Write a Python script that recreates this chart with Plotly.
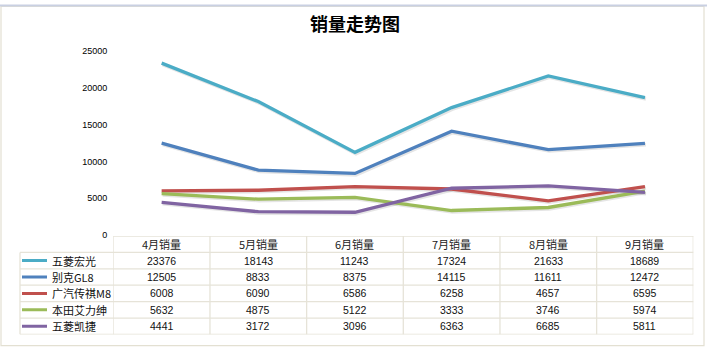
import plotly.graph_objects as go

months = ["4月销量", "5月销量", "6月销量", "7月销量", "8月销量", "9月销量"]
series_names = ["五菱宏光", "别克GL8", "广汽传祺M8", "本田艾力绅", "五菱凯捷"]
wuling_hongguang = [23376, 18143, 11243, 17324, 21633, 18689]
buick_gl8 = [12505, 8833, 8375, 14115, 11611, 12472]
gac_m8 = [6008, 6090, 6586, 6258, 4657, 6595]
honda_elysion = [5632, 4875, 5122, 3333, 3746, 5974]
wuling_kaijie = [4441, 3172, 3096, 6363, 6685, 5811]
y_ticks = [0, 5000, 10000, 15000, 20000, 25000]
colors = ["#4bacc6", "#4f81bd", "#c0504d", "#9bbb59", "#8064a2"]
title_text = "销量走势图"

all_series = [wuling_hongguang, buick_gl8, gac_m8, honda_elysion, wuling_kaijie]

W, H = 707, 355
def px(x):
    return x / W
def py(y):
    return 1 - y / H

x_left, x_right = 113.3, 693.3
tbl_top, tbl_bot = 237.7, 339.0
leg_left = 20.0
grid = "#e6e3d8"
cjk = "Noto Sans CJK SC"
num_font = "Liberation Sans"
y_bot, y_top = 236.7, 47.5
sh_dx, sh_dy = 1.0, 1.5

fig = go.Figure()
xs = list(range(len(months)))
# soft shadows on the (hidden) first subplot, drawn underneath
for name, vals in zip(series_names, all_series):
    fig.add_trace(go.Scatter(x=xs, y=vals, mode="lines", xaxis="x", yaxis="y",
                             line=dict(color="rgba(0,0,0,0.10)", width=3.5),
                             showlegend=False, hoverinfo="skip"))
# main lines
for name, vals, c in zip(series_names, all_series, colors):
    fig.add_trace(go.Scatter(x=xs, y=vals, mode="lines", name=name,
                             xaxis="x2", yaxis="y3",
                             line=dict(color=c, width=3.3), showlegend=False,
                             hoverinfo="skip"))

shapes = []
annotations = []
n_rows = len(series_names) + 1
for r in range(n_rows + 1):
    x0 = x_left if r == 0 else leg_left
    shapes.append(dict(type="line", xref="paper", yref="y2",
                       x0=px(x0), x1=px(x_right), y0=r, y1=r,
                       line=dict(color=grid, width=1.3)))
for c in range(len(months) + 1):
    shapes.append(dict(type="line", xref="x2", yref="y2",
                       x0=c - 0.5, x1=c - 0.5, y0=0, y1=n_rows,
                       line=dict(color=grid, width=1.3)))
shapes.append(dict(type="line", xref="paper", yref="y2",
                   x0=px(leg_left), x1=px(leg_left), y0=1, y1=n_rows,
                   line=dict(color=grid, width=1.3)))

for i, m in enumerate(months):
    annotations.append(dict(xref="x2", yref="y2", x=i, y=0.5, text=m,
                            showarrow=False, yanchor="middle",
                            font=dict(family=cjk, size=11, color="#222")))
for r, (name, vals, col) in enumerate(zip(series_names, all_series, colors), start=1):
    shapes.append(dict(type="line", xref="paper", yref="y2",
                       x0=px(22), x1=px(47), y0=r + 0.5, y1=r + 0.5,
                       line=dict(color=col, width=3)))
    annotations.append(dict(xref="paper", yref="y2", x=px(50), y=r + 0.5, text=name,
                            xanchor="left", yanchor="middle", showarrow=False,
                            font=dict(family=cjk, size=11, color="#111")))
    for i, v in enumerate(vals):
        annotations.append(dict(xref="x2", yref="y2", x=i, y=r + 0.5, text=str(v),
                                showarrow=False, yanchor="middle",
                                font=dict(family=num_font, size=10.5, color="#111")))

shapes.append(dict(type="rect", xref="paper", yref="paper",
                   x0=px(1), x1=px(704), y0=py(350.5), y1=py(1.5),
                   line=dict(color="#e3e0d2", width=1.2), layer="below"))
shapes.append(dict(type="line", xref="paper", yref="paper",
                   x0=0, x1=1, y0=py(0.5), y1=py(0.5),
                   line=dict(color="#c9d0e2", width=2)))

annotations.append(dict(xref="paper", yref="paper", x=px(355), y=py(19),
                        xanchor="center", yanchor="middle",
                        text="<b>" + title_text + "</b>",
                        showarrow=False, font=dict(family=cjk, size=18, color="#000")))

fig.update_layout(
    width=W, height=H,
    margin=dict(l=0, r=0, t=0, b=0),
    paper_bgcolor="white", plot_bgcolor="rgba(0,0,0,0)",
    xaxis=dict(domain=[px(x_left + sh_dx), px(x_right + sh_dx)], range=[-0.5, 5.5],
               visible=False, fixedrange=True),
    yaxis=dict(domain=[py(y_bot + sh_dy), py(y_top + sh_dy)], range=[0, 25000],
               visible=False, fixedrange=True),
    xaxis2=dict(domain=[px(x_left), px(x_right)], range=[-0.5, 5.5], anchor="y3",
                showgrid=False, zeroline=False, showticklabels=False, showline=False,
                fixedrange=True),
    yaxis3=dict(domain=[py(y_bot), py(y_top)], range=[0, 25000], anchor="x2",
                tickvals=y_ticks, ticktext=[str(t) for t in y_ticks],
                showgrid=False, zeroline=False, showline=False,
                tickfont=dict(family=num_font, size=9, color="#000"),
                ticks="", ticklabelstandoff=5, fixedrange=True),
    yaxis2=dict(domain=[py(tbl_bot), py(tbl_top)], range=[n_rows, 0],
                anchor="x2", showgrid=False, zeroline=False,
                showticklabels=False, showline=False, fixedrange=True),
    shapes=shapes,
    annotations=annotations,
)

fig.write_html("out.html", config={"displayModeBar": False},
               post_script="document.body.style.margin='0';document.body.style.overflow='hidden';")
